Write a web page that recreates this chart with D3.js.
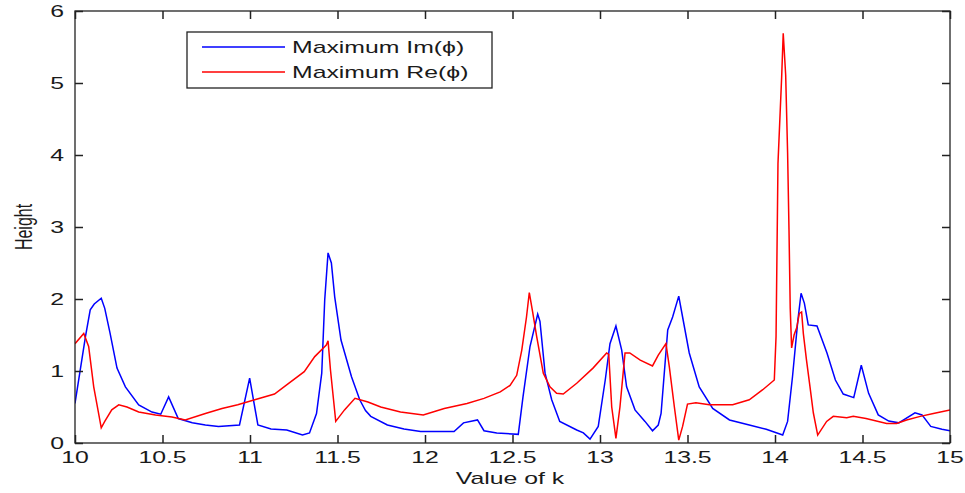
<!DOCTYPE html>
<html>
<head>
<meta charset="utf-8">
<script src="https://cdnjs.cloudflare.com/ajax/libs/d3/7.8.5/d3.min.js"></script>
<style>
  html, body { margin: 0; padding: 0; background: #fff; }
  svg { display: block; }
  text { font-family: "Liberation Sans", Arial, sans-serif; fill: #1a1a1a; }
</style>
</head>
<body>
<svg id="chart" width="965" height="493"></svg>
<script>
// ---- data ----
const kIm = [10.000,10.060,10.087,10.110,10.150,10.170,10.200,10.240,10.288,10.364,10.440,10.490,10.535,10.590,10.670,10.745,10.820,10.940,10.998,11.045,11.120,11.210,11.300,11.340,11.380,11.410,11.427,11.446,11.465,11.484,11.520,11.580,11.627,11.660,11.690,11.785,11.880,11.975,12.166,12.220,12.300,12.337,12.410,12.533,12.560,12.600,12.644,12.657,12.686,12.724,12.770,12.867,12.905,12.943,12.990,13.030,13.057,13.091,13.124,13.152,13.200,13.257,13.300,13.333,13.349,13.387,13.415,13.450,13.472,13.510,13.567,13.644,13.740,13.853,13.950,14.044,14.072,14.100,14.130,14.149,14.168,14.190,14.240,14.297,14.345,14.390,14.450,14.493,14.535,14.590,14.650,14.707,14.800,14.840,14.890,14.954,15.000];
const vIm = [0.55,1.48,1.85,1.93,2.01,1.87,1.53,1.04,0.78,0.53,0.43,0.40,0.64,0.34,0.28,0.25,0.23,0.25,0.90,0.25,0.195,0.18,0.11,0.14,0.41,0.97,1.99,2.64,2.50,2.03,1.43,0.92,0.60,0.45,0.37,0.25,0.195,0.16,0.16,0.28,0.32,0.17,0.14,0.12,0.64,1.34,1.79,1.69,0.97,0.60,0.30,0.18,0.14,0.055,0.23,0.875,1.38,1.625,1.29,0.78,0.46,0.30,0.17,0.25,0.41,1.57,1.75,2.04,1.75,1.25,0.78,0.48,0.32,0.25,0.19,0.11,0.30,0.92,1.69,2.08,1.94,1.64,1.625,1.25,0.875,0.68,0.63,1.08,0.69,0.39,0.305,0.28,0.42,0.39,0.23,0.19,0.17];

const kRe = [10.000,10.050,10.078,10.107,10.150,10.170,10.210,10.250,10.297,10.364,10.460,10.554,10.630,10.745,10.840,10.930,11.027,11.140,11.217,11.310,11.370,11.436,11.446,11.460,11.490,11.540,11.600,11.674,11.747,11.860,11.990,12.110,12.240,12.337,12.430,12.486,12.524,12.553,12.580,12.596,12.615,12.638,12.676,12.714,12.752,12.790,12.867,12.960,13.038,13.050,13.067,13.091,13.114,13.143,13.170,13.230,13.300,13.333,13.377,13.396,13.425,13.450,13.472,13.500,13.548,13.625,13.758,13.853,13.930,13.996,14.006,14.017,14.038,14.047,14.061,14.072,14.080,14.087,14.095,14.109,14.124,14.139,14.152,14.162,14.180,14.200,14.219,14.244,14.295,14.333,14.410,14.447,14.520,14.638,14.695,14.752,14.830,14.905,15.000];
const vRe = [1.38,1.52,1.34,0.78,0.21,0.30,0.46,0.53,0.50,0.43,0.39,0.36,0.32,0.41,0.48,0.53,0.60,0.68,0.82,0.99,1.20,1.36,1.42,1.01,0.30,0.46,0.62,0.57,0.50,0.43,0.39,0.48,0.55,0.62,0.71,0.80,0.94,1.29,1.75,2.09,1.82,1.48,0.97,0.78,0.69,0.68,0.83,1.04,1.25,1.23,0.50,0.065,0.50,1.25,1.25,1.15,1.07,1.22,1.38,1.06,0.50,0.04,0.23,0.54,0.56,0.53,0.53,0.60,0.74,0.875,1.48,3.88,5.08,5.69,5.11,4.03,2.96,1.87,1.32,1.50,1.60,1.80,1.82,1.52,1.15,0.78,0.42,0.11,0.30,0.37,0.35,0.37,0.34,0.27,0.27,0.32,0.37,0.41,0.46];

const xTicks = [10, 10.5, 11, 11.5, 12, 12.5, 13, 13.5, 14, 14.5, 15];
const xTickLabels = ["10","10.5","11","11.5","12","12.5","13","13.5","14","14.5","15"];
const yTicks = [0, 1, 2, 3, 4, 5, 6];
const seriesNames = ["Maximum Im(\u03D5)", "Maximum Re(\u03D5)"];
const seriesColors = ["#0000ff", "#ff0000"];
const xLabel = "Value of k";
const yLabel = "Height";

// ---- layout ----
const L = 75, R = 950, T = 11, B = 443;
const SX = 1.55; // horizontal text stretch seen in the reference
const svg = d3.select("#chart");
const x = d3.scaleLinear().domain([10, 15]).range([L, R]);
const y = d3.scaleLinear().domain([0, 6]).range([B, T]);

svg.append("defs").append("clipPath").attr("id", "clip")
  .append("rect").attr("x", L).attr("y", T).attr("width", R - L).attr("height", B - T);

// series
const line = d3.line().x(d => x(d[0])).y(d => y(d[1]));
const series = [
  d3.zip(kIm, vIm),
  d3.zip(kRe, vRe)
];
series.forEach((s, i) => {
  svg.append("path").datum(s)
    .attr("d", line)
    .attr("fill", "none")
    .attr("stroke", seriesColors[i])
    .attr("stroke-width", 1.5)
    .attr("stroke-linejoin", "miter")
    .attr("clip-path", "url(#clip)");
});

// frame
svg.append("rect").attr("x", L).attr("y", T).attr("width", R - L).attr("height", B - T)
  .attr("fill", "none").attr("stroke", "#222").attr("stroke-width", 1.3);

// axes (ticks inward, all four sides)
const tl = 8;
const gx = svg.append("g").attr("transform", `translate(0,${B})`)
  .call(d3.axisBottom(x).tickValues(xTicks).tickSize(-tl).tickFormat(() => ""));
const gxt = svg.append("g").attr("transform", `translate(0,${T})`)
  .call(d3.axisTop(x).tickValues(xTicks).tickSize(-tl).tickFormat(() => ""));
const gy = svg.append("g").attr("transform", `translate(${L},0)`)
  .call(d3.axisLeft(y).tickValues(yTicks).tickSize(-tl).tickFormat(() => ""));
const gyr = svg.append("g").attr("transform", `translate(${R},0)`)
  .call(d3.axisRight(y).tickValues(yTicks).tickSize(-tl).tickFormat(() => ""));
[gx, gxt, gy, gyr].forEach(g => {
  g.select(".domain").remove();
  g.selectAll(".tick line").attr("stroke", "#222").attr("stroke-width", 1.5);
});

// tick labels (stretched horizontally)
xTicks.forEach((t, i) => {
  svg.append("text")
    .attr("transform", `translate(${x(t)},463) scale(${SX},1)`)
    .attr("text-anchor", "middle").attr("font-size", 16)
    .text(xTickLabels[i]);
});
yTicks.forEach(t => {
  svg.append("text")
    .attr("transform", `translate(64,${y(t) + 6}) scale(${SX},1)`)
    .attr("text-anchor", "end").attr("font-size", 16)
    .text(String(t));
});

// axis titles
svg.append("text")
  .attr("transform", `translate(510,484) scale(${SX},1)`)
  .attr("text-anchor", "middle").attr("font-size", 16)
  .text(xLabel);
svg.append("text")
  .attr("transform", `translate(32,227) scale(${SX},1) rotate(-90)`)
  .attr("text-anchor", "middle").attr("font-size", 16)
  .text(yLabel);

// legend
const lg = svg.append("g");
lg.append("rect").attr("x", 187).attr("y", 32).attr("width", 305).attr("height", 56)
  .attr("fill", "#fff").attr("stroke", "#222").attr("stroke-width", 1.3);
seriesNames.forEach((n, i) => {
  const ly = 47 + i * 25;
  lg.append("line").attr("x1", 202).attr("x2", 285).attr("y1", ly).attr("y2", ly)
    .attr("stroke", seriesColors[i]).attr("stroke-width", 1.3);
  lg.append("text")
    .attr("transform", `translate(292,${ly + 6}) scale(${SX},1)`)
    .attr("font-size", 16)
    .text(n);
});
</script>
</body>
</html>
